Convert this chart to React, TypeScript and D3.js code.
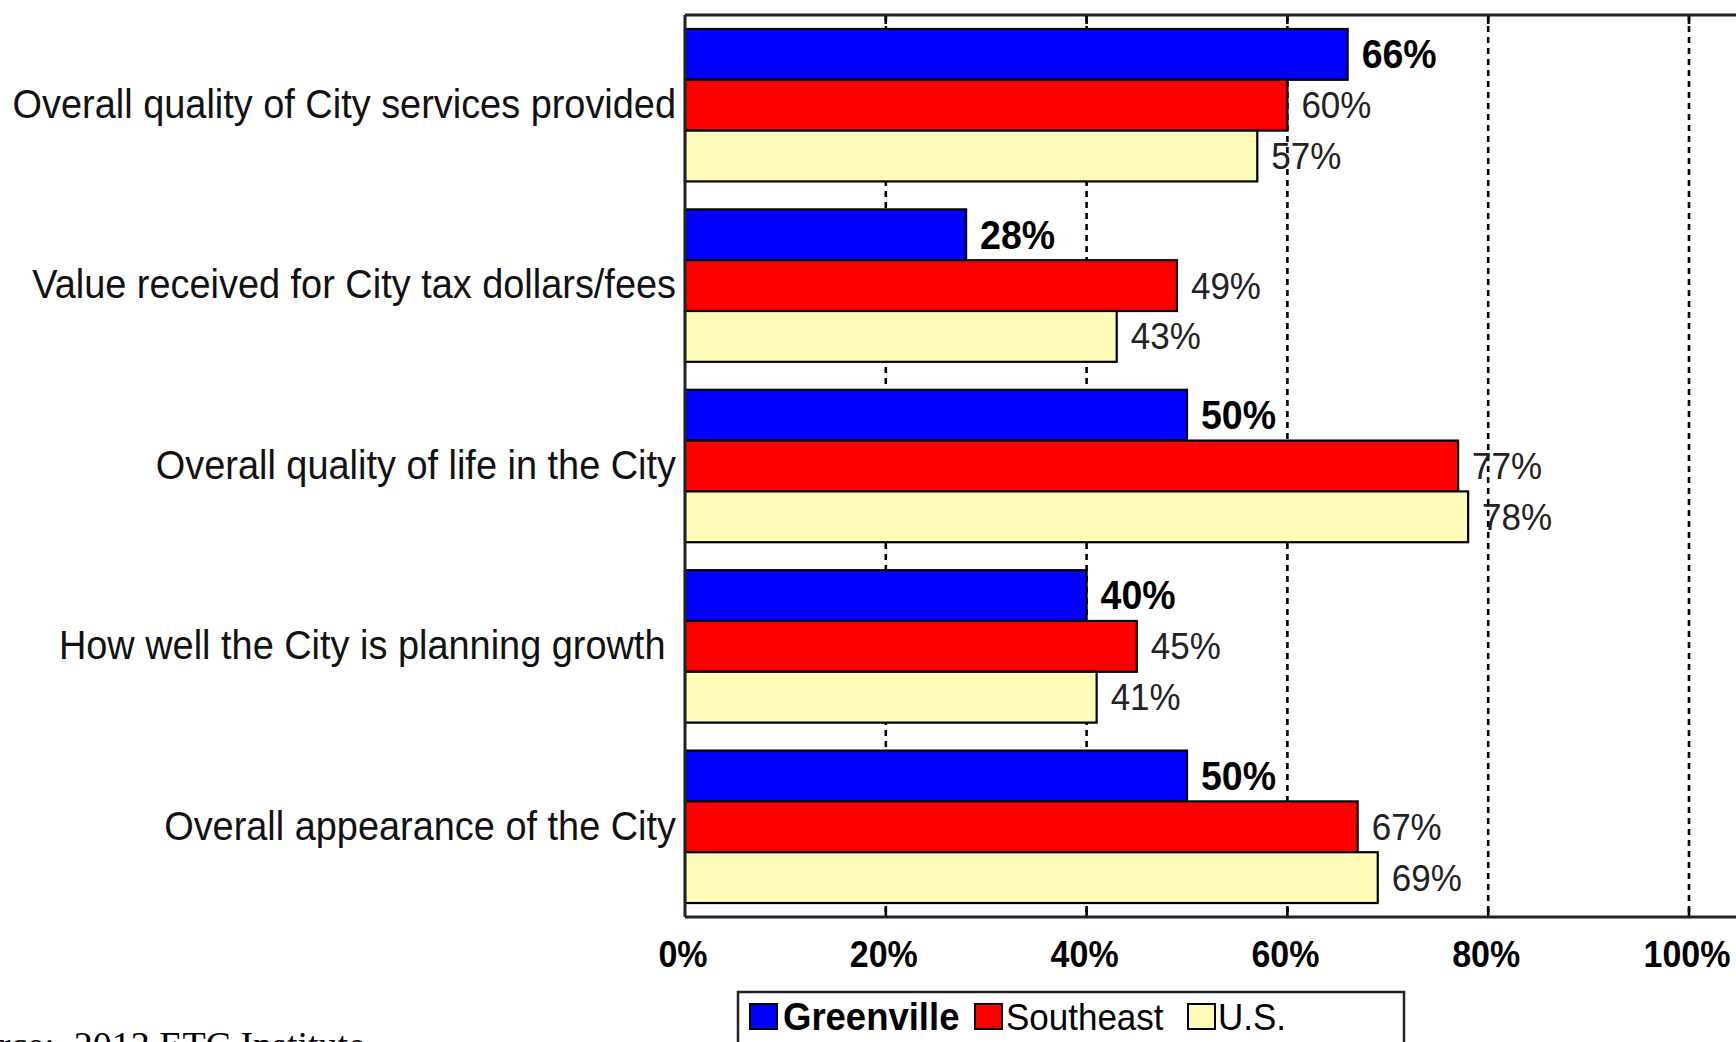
import React from "react";
import * as d3 from "d3";

const categories = [
  "Overall quality of City services provided",
  "Value received for City tax dollars/fees",
  "Overall quality of life in the City",
  "How well the City is planning growth\u00a0",
  "Overall appearance of the City",
];
const seriesNames = ["Greenville", "Southeast", "U.S."];
const greenville = [66, 28, 50, 40, 50];
const southeast = [60, 49, 77, 45, 67];
const us = [57, 43, 78, 41, 69];
const xTicks = [0, 20, 40, 60, 80, 100];
const colors = ["#0000FF", "#FF0000", "#FFFCBA"];

const W = 1736;
const H = 1042;
const FONT = "'Liberation Sans', Arial, sans-serif";

function T(props: {
  x: number;
  y: number;
  sy?: number;
  anchor?: string;
  size: number;
  bold?: boolean;
  fill?: string;
  children: React.ReactNode;
}) {
  const sy = props.sy ?? 1.08;
  return (
    <text
      transform={`translate(${props.x},${props.y}) scale(1,${sy})`}
      x={0}
      y={0}
      textAnchor={props.anchor ?? "start"}
      dominantBaseline="central"
      fontFamily={FONT}
      fontSize={props.size}
      fontWeight={props.bold ? "bold" : "normal"}
      fill={props.fill ?? "#000"}
      style={{ whiteSpace: "pre" }}
    >
      {props.children}
    </text>
  );
}

export default function App() {
  const series = [greenville, southeast, us];
  const x = d3.scaleLinear().domain([0, 100]).range([685, 1689]);
  const y = d3
    .scaleBand<string>()
    .domain(categories)
    .range([15, 917])
    .paddingInner(0.155)
    .paddingOuter(0.0775);
  const sub = d3
    .scaleBand<string>()
    .domain(seriesNames)
    .range([0, y.bandwidth()])
    .padding(0);
  const plotTop = 15;
  const plotBottom = 917;
  const plotRight = x(106);

  return (
    <svg
      width={W}
      height={H}
      viewBox={`0 0 ${W} ${H}`}
      style={{ position: "absolute", left: 0, top: 0, background: "#fff" }}
    >
      <rect x={0} y={0} width={W} height={H} fill="#fff" />
      {xTicks
        .filter((t) => t > 0)
        .map((t) => (
          <line
            key={"g" + t}
            x1={x(t)}
            x2={x(t)}
            y1={plotTop}
            y2={plotBottom}
            stroke="#000"
            strokeWidth={2.6}
            strokeDasharray="6,5"
          />
        ))}
      {xTicks
        .filter((t) => t > 0)
        .map((t) => (
          <g key={"t" + t}>
            <line x1={x(t)} x2={x(t)} y1={plotTop} y2={plotTop + 9} stroke="#000" strokeWidth={2.6} />
            <line x1={x(t)} x2={x(t)} y1={plotBottom - 9} y2={plotBottom} stroke="#000" strokeWidth={2.6} />
          </g>
        ))}
      {categories.map((c, ci) => (
        <g key={c}>
          {seriesNames.map((s, si) => {
            const v = series[si][ci];
            const by = (y(c) as number) + (sub(s) as number);
            const bh = sub.bandwidth();
            return (
              <g key={s}>
                <rect
                  x={x(0)}
                  y={by}
                  width={x(v) - x(0)}
                  height={bh}
                  fill={colors[si]}
                  stroke="#000"
                  strokeWidth={2.2}
                />
                <T
                  x={x(v) + 14}
                  y={by + bh / 2}
                  size={si === 0 ? 37.5 : 35}
                  sy={si === 0 ? 1.06 : 1.08}
                  bold={si === 0}
                  fill={si === 0 ? "#000" : "#222"}
                >
                  {v}%
                </T>
              </g>
            );
          })}
          <T
            x={676}
            y={(y(c) as number) + y.bandwidth() / 2 - 1}
            anchor="end"
            size={37.9}
            sy={1.06}
            fill="#111"
          >
            {c}
          </T>
        </g>
      ))}
      <line x1={x(0)} x2={plotRight} y1={plotTop} y2={plotTop} stroke="#222" strokeWidth={3} />
      <line x1={x(0)} x2={plotRight} y1={plotBottom} y2={plotBottom} stroke="#222" strokeWidth={3} />
      <line x1={x(0)} x2={x(0)} y1={plotTop} y2={plotBottom} stroke="#222" strokeWidth={3} />
      {xTicks.map((t) => (
        <T key={"l" + t} x={x(t) - 2} y={954} anchor="middle" size={34} sy={1.1} bold>
          {t}%
        </T>
      ))}
      <rect x={738} y={992} width={666} height={80} fill="#fff" stroke="#222" strokeWidth={2.5} />
      {(() => {
        const items = [
          { sq: 750, tx: 783, bold: true, size: 36.5 },
          { sq: 975, tx: 1006, bold: false, size: 35 },
          { sq: 1188, tx: 1218, bold: false, size: 35 },
        ];
        return seriesNames.map((s, i) => (
          <g key={"lg" + s}>
            <rect
              x={items[i].sq}
              y={1004}
              width={27}
              height={25}
              fill={colors[i]}
              stroke="#000"
              strokeWidth={2}
            />
            <T x={items[i].tx} y={1017} size={items[i].size} sy={1.08} bold={items[i].bold}>
              {s}
            </T>
          </g>
        ));
      })()}
      <text
        x={365}
        y={1058}
        textAnchor="end"
        fontFamily="'Liberation Serif', 'Times New Roman', serif"
        fontSize={38}
        fill="#000"
        style={{ whiteSpace: "pre" }}
      >
        {"Source:  2013 ETC Institute"}
      </text>
    </svg>
  );
}
